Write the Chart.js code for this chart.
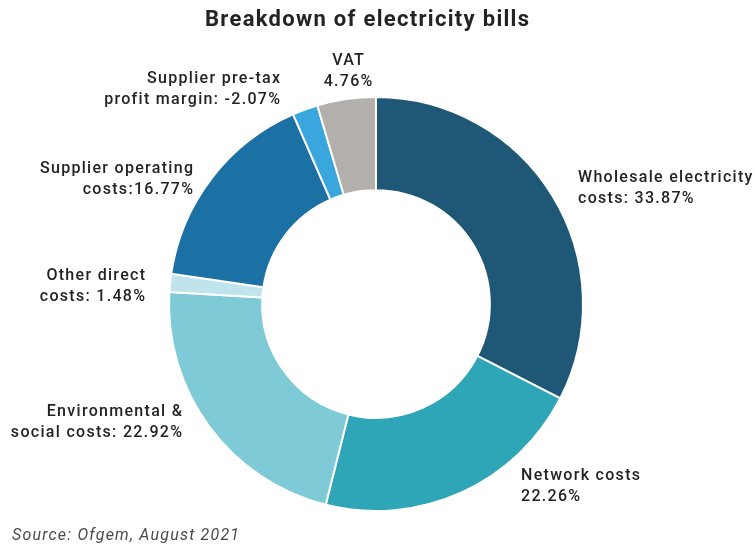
<!DOCTYPE html>
<html>
<head>
<meta charset="utf-8">
<title>Breakdown of electricity bills</title>
<script src="https://cdn.jsdelivr.net/npm/chart.js@4.4.1/dist/chart.umd.min.js"></script>
<style>
  html, body { margin: 0; padding: 0; background: #ffffff; }
  #wrap { width: 755px; height: 548px; position: relative; }
</style>
</head>
<body>
<div id="wrap"><canvas id="bills" width="755" height="548"></canvas></div>
<script>
// Share of a typical electricity bill, per cent
const categories = [
  'Wholesale electricity costs',
  'Network costs',
  'Environmental & social costs',
  'Other direct costs',
  'Supplier operating costs',
  'Supplier pre-tax profit margin',
  'VAT'
];
const shares = [33.87, 22.26, 22.92, 1.48, 16.77, -2.07, 4.76];
const sliceColors = ['#1f5877', '#2ea6b8', '#7ecbd7', '#c0e4eb', '#1b70a4', '#3aa6de', '#b3afad'];

// Label text, one array per slice; {v} is replaced by the slice value
const labelLines = [
  ['Wholesale electricity', 'costs: {v}%'],
  ['Network costs', '{v}%'],
  ['Environmental &', 'social costs: {v}%'],
  ['Other direct', 'costs: {v}%'],
  ['Supplier operating', 'costs:{v}%'],
  ['Supplier pre-tax', 'profit margin: {v}%'],
  ['VAT', '{v}%']
];

const titleText = 'Breakdown of electricity bills';
const sourceText = 'Source: Ofgem, August 2021';

// Where each label block sits relative to the doughnut centre
const labelPlacement = [
  { dx: 202, dy: -126, align: 'left' },
  { dx: 145, dy: 172, align: 'left' },
  { dx: -194, dy: 108, align: 'right' },
  { dx: -231, dy: -28, align: 'right' },
  { dx: -183, dy: -135, align: 'right' },
  { dx: -96, dy: -225, align: 'right' },
  { dx: -28, dy: -243, align: 'center' }
];

const textColor = '#232323';
const fontFamily = 'Roboto, "DejaVu Sans", sans-serif';

function spacedText(ctx, txt, x, y, align, spacing) {
  ctx.letterSpacing = spacing + 'px';
  const w = ctx.measureText(txt).width - spacing;
  ctx.textAlign = 'left';
  let x0 = x;
  if (align === 'right') x0 = x - w;
  else if (align === 'center') x0 = x - w / 2;
  ctx.fillText(txt, x0, y);
}

const annotate = {
  id: 'annotate',
  afterDraw(chart) {
    const ctx = chart.ctx;
    const arc = chart.getDatasetMeta(0).data[0];
    const cx = arc.x, cy = arc.y;
    ctx.save();
    ctx.fillStyle = textColor;
    ctx.textBaseline = 'middle';

    // heading
    ctx.font = 'bold 22px ' + fontFamily;
    spacedText(ctx, titleText, cx - 9, 20, 'center', 1.3);

    // slice labels
    ctx.font = '500 16px ' + fontFamily;
    labelLines.forEach((lines, i) => {
      const p = labelPlacement[i];
      lines.forEach((line, j) => {
        const txt = line.replace('{v}', shares[i].toFixed(2));
        spacedText(ctx, txt, cx + p.dx, cy + p.dy + j * 21, p.align, 1.3);
      });
    });

    // source note
    ctx.font = 'italic 16px ' + fontFamily;
    ctx.fillStyle = '#4a4a4a';
    spacedText(ctx, sourceText, 12, 536, 'left', 1.2);
    ctx.restore();
  }
};

new Chart(document.getElementById('bills'), {
  type: 'doughnut',
  data: {
    labels: categories,
    datasets: [{
      data: shares,
      backgroundColor: sliceColors,
      borderColor: '#ffffff',
      borderWidth: 2
    }]
  },
  options: {
    responsive: false,
    animation: false,
    cutout: '55%',
    layout: { padding: { top: 96, bottom: 36, left: 168, right: 171 } },
    plugins: {
      legend: { display: false },
      tooltip: { enabled: false },
      title: { display: false }
    }
  },
  plugins: [annotate]
});
</script>
</body>
</html>
